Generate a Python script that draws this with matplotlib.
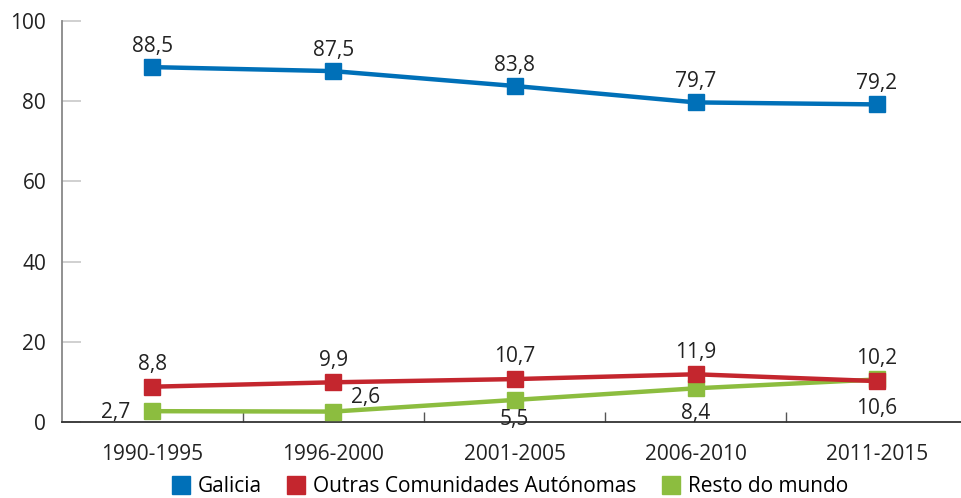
import matplotlib
matplotlib.use("Agg")
import matplotlib.pyplot as plt
from matplotlib.lines import Line2D

plt.rcParams['font.family'] = ['Open Sans', 'DejaVu Sans']

categories = ["1990-1995", "1996-2000", "2001-2005", "2006-2010", "2011-2015"]
galicia = [88.5, 87.5, 83.8, 79.7, 79.2]
outras = [8.8, 9.9, 10.7, 11.9, 10.2]
resto = [2.7, 2.6, 5.5, 8.4, 10.6]
series_names = ["Galicia", "Outras Comunidades Autónomas", "Resto do mundo"]
yticks = [0, 20, 40, 60, 80, 100]

colors = ["#0070b8", "#c4262e", "#8cbd3f"]

fig = plt.figure(figsize=(9.61, 4.98), dpi=100)
ax = fig.add_axes([61.5/961, 76/498, 906/961, 401/498])

x = list(range(len(categories)))
lw = 3.2
ms = 11.5
ax.plot(x, resto, color=colors[2], lw=lw, marker='s', ms=ms, zorder=3)
ax.plot(x, galicia, color=colors[0], lw=lw, marker='s', ms=ms, zorder=4)
ax.plot(x, outras, color=colors[1], lw=lw, marker='s', ms=ms, zorder=5)

fs = 15
def fmt(v):
    return f"{v:.1f}".replace('.', ',')

for i, v in enumerate(galicia):
    ax.annotate(fmt(v), (i, v), xytext=(0, 15), textcoords='offset points',
                ha='center', va='center', fontsize=fs, color='#222222')
for i, v in enumerate(outras):
    ax.annotate(fmt(v), (i, v), xytext=(0, 16), textcoords='offset points',
                ha='center', va='center', fontsize=fs, color='#222222')
resto_offsets = [(-26, -1), (23, 10), (0, -14), (0, -18), (0, -21)]
for i, v in enumerate(resto):
    ax.annotate(fmt(v), (i, v), xytext=resto_offsets[i], textcoords='offset points',
                ha='center', va='center', fontsize=fs, color='#222222', zorder=6)

ax.set_xlim(-0.5, len(categories) - 0.5)
ax.set_ylim(0, 100)
ax.set_yticks(yticks)
ax.set_yticklabels([str(t) for t in yticks], fontsize=fs, color='#222222')
ax.set_xticks(x)
ax.set_xticklabels(categories, fontsize=fs, color='#222222')
ax.set_xticks([i + 0.5 for i in x[:-1]], minor=True)

ax.tick_params(axis='y', direction='in', length=14, width=1.2, color='#c8c8c8', pad=11)
ax.tick_params(axis='x', which='major', length=0, pad=16)
ax.tick_params(axis='x', which='minor', direction='in', length=7, width=1, color='#555555')

for s in ['top', 'right']:
    ax.spines[s].set_visible(False)
ax.spines['left'].set_color('#888888')
ax.spines['left'].set_linewidth(1.3)
ax.spines['bottom'].set_color('#333333')
ax.spines['bottom'].set_linewidth(1.3)

handles = [Line2D([], [], linestyle='none', marker='s', ms=13, color=c) for c in colors]
fig.legend(handles, series_names, loc='lower center', bbox_to_anchor=(0.530, -0.036),
           ncol=3, frameon=False, fontsize=fs, handletextpad=0.3, columnspacing=1.15,
           handlelength=1.0)

fig.savefig("out.png", dpi=100)
